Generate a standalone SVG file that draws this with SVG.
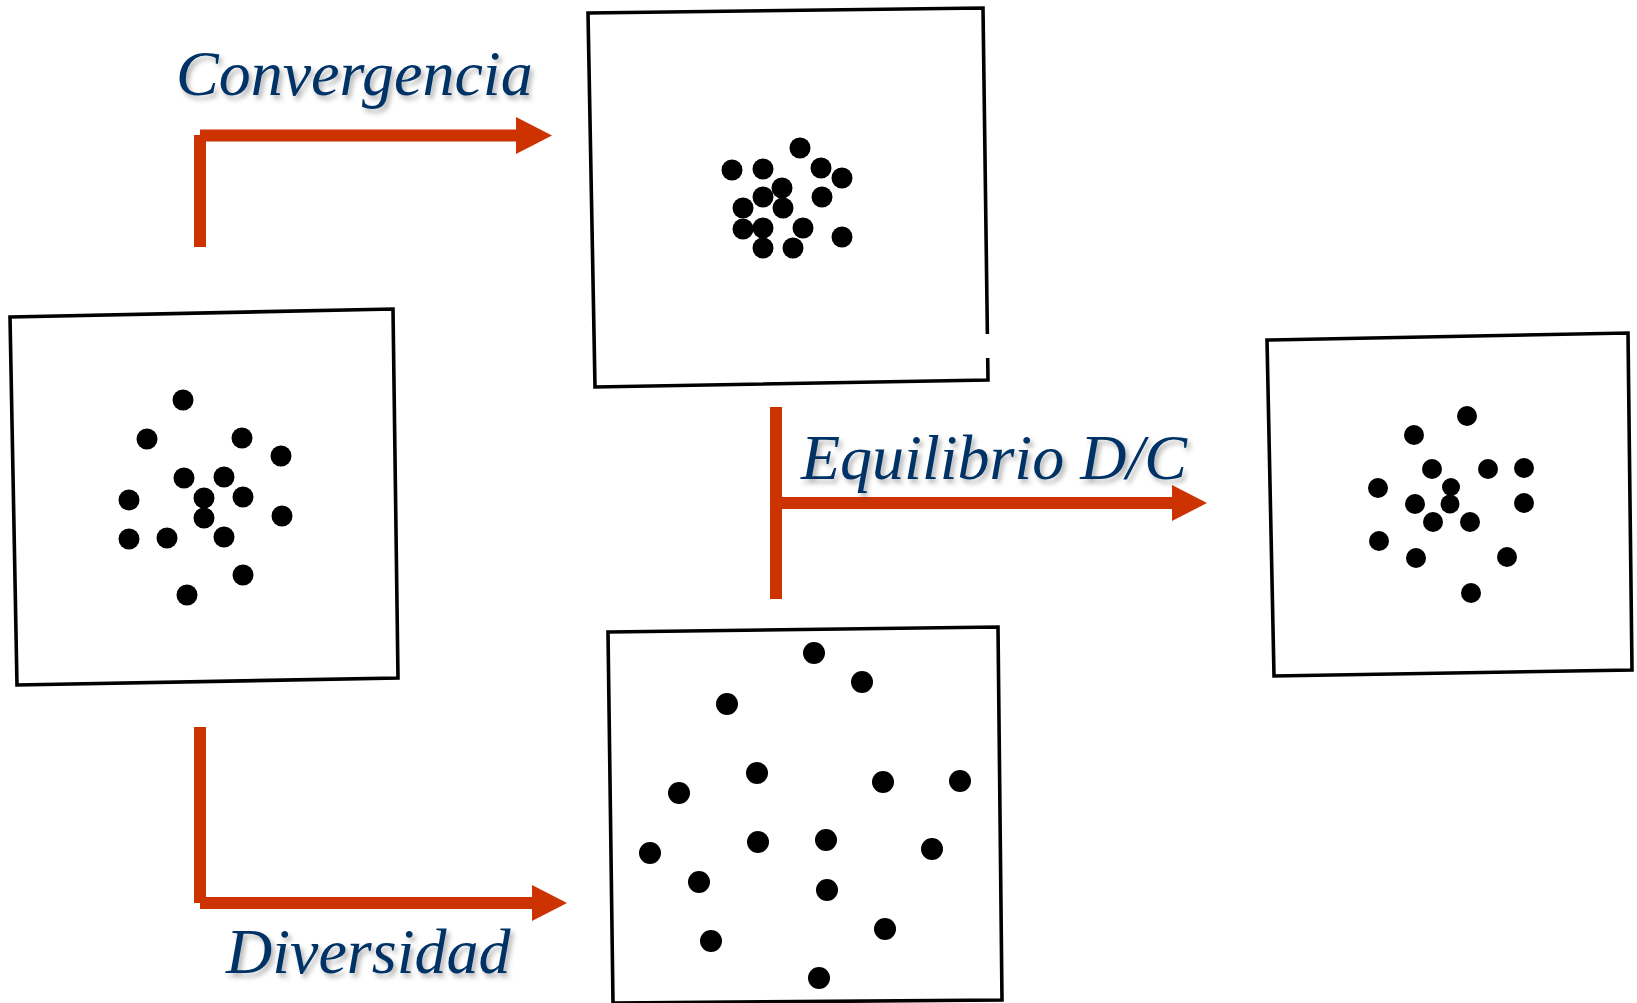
<svg xmlns="http://www.w3.org/2000/svg" width="1637" height="1003" viewBox="0 0 1637 1003">
<style>
.frame{fill:#fff;stroke:#000;stroke-width:3.6;stroke-linejoin:miter}
.dot{fill:#000}
.bar{stroke:#CC3300;stroke-width:12;fill:none;stroke-linecap:butt}
.head{fill:#CC3300}
.lbl{font-family:"Liberation Serif","Times New Roman",serif;font-style:italic;font-size:64px;fill:#003366;filter:url(#sh)}
</style>
<defs>
<filter id="sh" x="-10%" y="-30%" width="130%" height="170%">
<feDropShadow dx="3" dy="4" stdDeviation="2.5" flood-color="#000" flood-opacity="0.3"/>
</filter>
</defs>
<rect width="1637" height="1003" fill="#fff"/>

<g id="panel-inicial">
<polygon class="frame" points="10,317 393,309 398,678 17,685"/>
<g class="dot">
<circle cx="183" cy="400" r="10.5"/><circle cx="147" cy="439" r="10.5"/><circle cx="242" cy="438" r="10.5"/>
<circle cx="281" cy="456" r="10.5"/><circle cx="184" cy="478" r="10.5"/><circle cx="224" cy="477" r="10.5"/>
<circle cx="204" cy="498" r="10.5"/><circle cx="243" cy="497" r="10.5"/><circle cx="129" cy="500" r="10.5"/>
<circle cx="282" cy="516" r="10.5"/><circle cx="204" cy="518" r="10.5"/><circle cx="129" cy="539" r="10.5"/>
<circle cx="167" cy="538" r="10.5"/><circle cx="224" cy="537" r="10.5"/><circle cx="243" cy="575" r="10.5"/>
<circle cx="187" cy="595" r="10.5"/>
</g>
</g>

<g id="panel-convergencia">
<polygon class="frame" points="588,13 983,8 988,380 595,387"/>
<rect x="984" y="334" width="8" height="24" fill="#fff"/>
<g class="dot">
<circle cx="800" cy="148" r="10.5"/><circle cx="732" cy="170" r="10.5"/><circle cx="763" cy="169" r="10.5"/>
<circle cx="821" cy="168" r="10.5"/><circle cx="842" cy="178" r="10.5"/><circle cx="782" cy="188" r="10.5"/>
<circle cx="763" cy="197" r="10.5"/><circle cx="822" cy="197" r="10.5"/><circle cx="743" cy="208" r="10.5"/>
<circle cx="783" cy="208" r="10.5"/><circle cx="743" cy="229" r="10.5"/><circle cx="763" cy="228" r="10.5"/>
<circle cx="803" cy="228" r="10.5"/><circle cx="842" cy="237" r="10.5"/><circle cx="763" cy="248" r="10.5"/>
<circle cx="793" cy="248" r="10.5"/>
</g>
</g>

<g id="panel-diversidad">
<polygon class="frame" points="608,632 998,627 1002,1000 613,1003"/>
<g class="dot">
<circle cx="814" cy="653" r="11"/><circle cx="862" cy="682" r="11"/><circle cx="727" cy="704" r="11"/>
<circle cx="757" cy="773" r="11"/><circle cx="883" cy="782" r="11"/><circle cx="960" cy="781" r="11"/>
<circle cx="679" cy="793" r="11"/><circle cx="758" cy="842" r="11"/><circle cx="826" cy="840" r="11"/>
<circle cx="932" cy="849" r="11"/><circle cx="650" cy="853" r="11"/><circle cx="699" cy="882" r="11"/>
<circle cx="827" cy="890" r="11"/><circle cx="885" cy="929" r="11"/><circle cx="711" cy="941" r="11"/>
<circle cx="819" cy="978" r="11"/>
</g>
</g>

<g id="panel-equilibrio">
<polygon class="frame" points="1267,340 1628,333 1632,670 1274,676"/>
<g class="dot">
<circle cx="1467" cy="416" r="10"/><circle cx="1414" cy="435" r="10"/><circle cx="1432" cy="469" r="10"/>
<circle cx="1488" cy="469" r="10"/><circle cx="1524" cy="468" r="10"/><circle cx="1378" cy="488" r="10"/>
<circle cx="1451" cy="487" r="9"/><circle cx="1450" cy="504" r="9.5"/><circle cx="1415" cy="504" r="10"/>
<circle cx="1524" cy="503" r="10"/><circle cx="1433" cy="522" r="10"/><circle cx="1470" cy="522" r="10"/>
<circle cx="1379" cy="541" r="10"/><circle cx="1416" cy="558" r="10"/><circle cx="1507" cy="557" r="10"/>
<circle cx="1471" cy="593" r="10"/>
</g>
</g>

<g id="connectors">
<g id="arrow-convergencia">
<line class="bar" x1="200" y1="135" x2="200" y2="247"/>
<line class="bar" x1="200" y1="135.5" x2="518" y2="135.5"/>
<polygon class="head" points="516,117 552,135.5 516,154"/>
</g>
<g id="arrow-diversidad">
<line class="bar" x1="200" y1="727" x2="200" y2="903"/>
<line class="bar" x1="200" y1="903" x2="534" y2="903"/>
<polygon class="head" points="532,885 567,903 532,921"/>
</g>
<g id="arrow-equilibrio">
<line class="bar" x1="776" y1="407" x2="776" y2="599"/>
<line class="bar" x1="782" y1="503" x2="1174" y2="503"/>
<polygon class="head" points="1172,485 1207,503 1172,521"/>
</g>
</g>

<g id="labels">
<text class="lbl" x="176" y="95">Convergencia</text>
<text class="lbl" x="801" y="479">Equilibrio D/C</text>
<text class="lbl" x="226" y="973">Diversidad</text>
</g>
</svg>
